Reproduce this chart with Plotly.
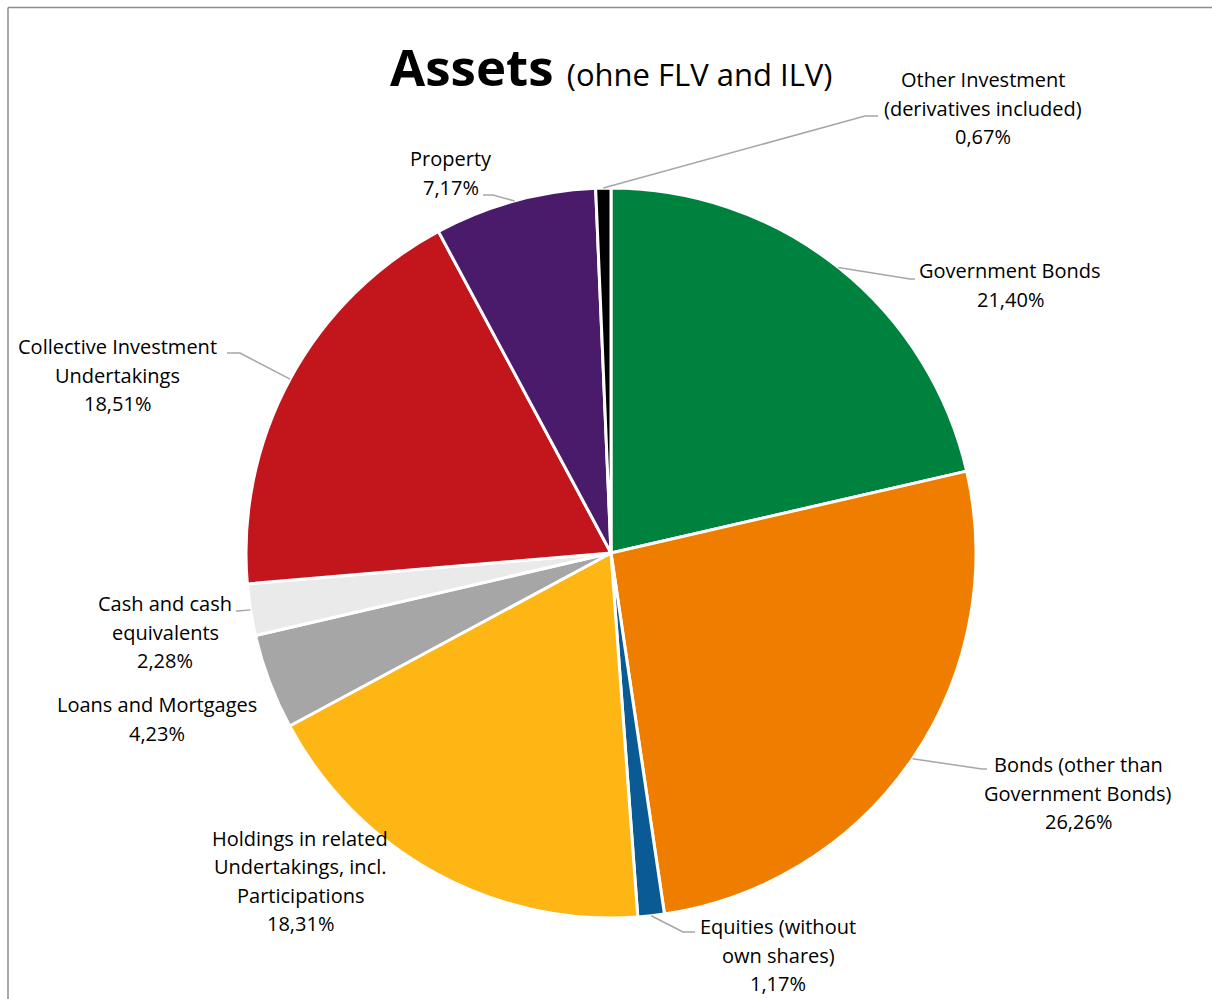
import math
import plotly.graph_objects as go

# ---------------- data ----------------
categories = [
    "Government Bonds",
    "Bonds (other than\nGovernment Bonds)",
    "Equities (without\nown shares)",
    "Holdings in related\nUndertakings, incl.\nParticipations",
    "Loans and Mortgages",
    "Cash and cash\nequivalents",
    "Collective Investment\nUndertakings",
    "Property",
    "Other Investment\n(derivatives included)",
]
values = [21.40, 26.26, 1.17, 18.31, 4.23, 2.28, 18.51, 7.17, 0.67]
colors = ["#00823F", "#EF7D00", "#0A5A96", "#FDB614", "#A6A6A6",
          "#EAEAEA", "#C3161C", "#4A1A6B", "#000000"]
title_main = "Assets"
title_sub = "(ohne FLV and ILV)"

# ---------------- layout (pixels) ----------------
W, H = 1212, 999
CX, CY, R = 611, 553, 365
# label text centres
label_pos = [(1010, 285), (1078, 793), (778, 955), (300, 881), (157, 719),
             (165, 632), (117, 375), (451, 173), (983, 108)]
# leader line: elbow point and end point (None = no leader)
leader = [((910, 279), (915, 279)), ((982, 769), (987, 769)),
          ((683, 932), (695, 932)), None, None,
          ((238, 611), (236, 611)), ((240, 353), (227, 353)),
          ((493, 195), (483, 195)), ((865, 116), (878, 116))]
LINE_H = 28.5
FONT = "Open Sans"


def px(x):
    return x / W


def py(y):
    return 1 - y / H


fig = go.Figure(go.Pie(
    labels=[c.replace("\n", " ") for c in categories],
    values=values,
    sort=False,
    direction="clockwise",
    rotation=0,
    textinfo="none",
    marker=dict(colors=colors, line=dict(color="white", width=3)),
    domain=dict(x=[px(CX - R), px(CX + R)], y=[py(CY + R), py(CY - R)]),
    showlegend=False,
))

total = sum(values)
annotations = []
shapes = []
cum = 0.0
for i, (cat, v) in enumerate(zip(categories, values)):
    mid = (cum + v / 2) / total * 2 * math.pi
    cum += v
    ex = CX + R * math.sin(mid)
    ey = CY - R * math.cos(mid)
    lines = cat.split("\n") + [f"{v:.2f}%".replace(".", ",")]
    lx, ly = label_pos[i]
    n = len(lines)
    for j, t in enumerate(lines):
        yy = ly + (j - (n - 1) / 2) * LINE_H
        annotations.append(dict(
            x=px(lx), y=py(yy), xref="paper", yref="paper", text=t,
            showarrow=False, xanchor="center", yanchor="middle",
            font=dict(family=FONT, size=20, color="#000000")))
    if leader[i] is not None:
        (bx, by), (fx, fy) = leader[i]
        shapes.append(dict(
            type="path", xref="paper", yref="paper",
            path=f"M {px(ex)} {py(ey)} L {px(bx)} {py(by)} L {px(fx)} {py(fy)}",
            line=dict(color="#A6A6A6", width=1.5)))

# title
annotations.append(dict(
    x=px(611), y=py(66), xref="paper", yref="paper",
    text=f"<b>{title_main}</b> <span style='font-size:31px'>{title_sub}</span>",
    showarrow=False, xanchor="center", yanchor="middle",
    font=dict(family=FONT, size=51, color="#000000")))

# chart frame (top and left edges)
shapes.append(dict(type="line", xref="paper", yref="paper",
                   x0=px(8), y0=py(7.5), x1=1, y1=py(7.5),
                   line=dict(color="#8C8C8C", width=1.5)))
shapes.append(dict(type="line", xref="paper", yref="paper",
                   x0=px(8), y0=py(7.5), x1=px(8), y1=0,
                   line=dict(color="#8C8C8C", width=1.5)))

fig.update_layout(
    width=W, height=H,
    margin=dict(l=0, r=0, t=0, b=0),
    paper_bgcolor="white", plot_bgcolor="white",
    annotations=annotations, shapes=shapes,
)

fig.write_html("out.html",
               config={"displayModeBar": False},
               post_script="document.body.style.margin='0';"
                           "document.body.style.overflow='hidden';")
